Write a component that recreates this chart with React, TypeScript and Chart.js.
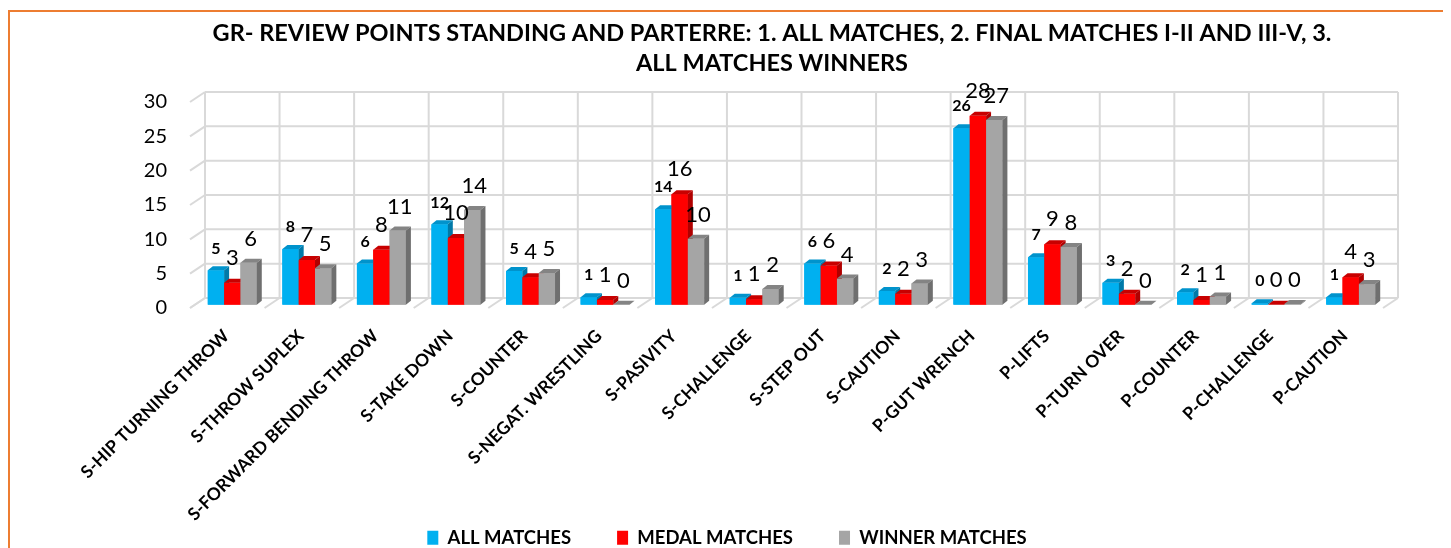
import React, { useEffect, useRef } from "react";
import { Chart, registerables } from "chart.js";

Chart.register(...registerables);

const categories = [
  "S-HIP TURNING THROW",
  "S-THROW SUPLEX",
  "S-FORWARD BENDING THROW",
  "S-TAKE DOWN",
  "S-COUNTER",
  "S-NEGAT. WRESTLING",
  "S-PASIVITY",
  "S-CHALLENGE",
  "S-STEP OUT",
  "S-CAUTION",
  "P-GUT WRENCH",
  "P-LIFTS",
  "P-TURN OVER",
  "P-COUNTER",
  "P-CHALLENGE",
  "P-CAUTION",
];

const allMatches = [5.0, 8.1, 6.0, 11.7, 4.9, 1.1, 13.9, 1.0, 6.0, 2.0, 25.7, 6.9, 3.2, 1.8, 0.2, 1.1];
const medalMatches = [3.2, 6.5, 8.0, 9.7, 4.0, 0.7, 16.1, 0.8, 5.7, 1.6, 27.5, 8.8, 1.6, 0.7, 0.0, 4.0];
const winnerMatches = [6.1, 5.3, 10.8, 13.8, 4.6, 0.0, 9.6, 2.3, 3.8, 3.1, 26.9, 8.4, 0.0, 1.2, 0.1, 3.0];

const seriesNames = ["ALL MATCHES", "MEDAL MATCHES", "WINNER MATCHES"];
const titleLines = [
  "GR- REVIEW POINTS STANDING AND PARTERRE: 1. ALL MATCHES, 2. FINAL MATCHES I-II AND III-V, 3.",
  "ALL MATCHES WINNERS",
];
const yMin = 0;
const yMax = 30;
const yStep = 5;

const FONT = 'Lato, "Open Sans", "DejaVu Sans", sans-serif';
const FRONT = ["#00B0F0", "#FF0000", "#A5A5A5"];
const TOP = ["#0093CC", "#C80000", "#848484"];
const SIDE = ["#0079A8", "#B00000", "#6F6F6F"];

const CANVAS_W = 1524;
const CANVAS_H = 545;
const AREA_LEFT = 185;
const AREA_RIGHT = 1378;
const AREA_BOTTOM = 292.7;
const BACK = { dx: 10, dy: -6.7 };
const FRONTP = { dx: -5, dy: 3.3 };
const BAR_DX = 5;
const BAR_DY = 4;
const TITLE_CX = 762;
const LEGEND_CX = 717;

const grid3d = {
  id: "grid3d",
  beforeDatasetsDraw(chart: any) {
    const { ctx, chartArea: a, scales } = chart;
    const x = scales.x;
    const y = scales.y;
    ctx.save();
    ctx.strokeStyle = "#D9D9D9";
    ctx.lineWidth = 2;
    const line = (x1: number, y1: number, x2: number, y2: number) => {
      ctx.beginPath();
      ctx.moveTo(x1, y1);
      ctx.lineTo(x2, y2);
      ctx.stroke();
    };
    y.ticks.forEach((t: any) => {
      const py = y.getPixelForValue(t.value);
      line(a.left + BACK.dx, py + BACK.dy, a.right + BACK.dx, py + BACK.dy);
      line(a.left + FRONTP.dx, py + FRONTP.dy, a.left + BACK.dx, py + BACK.dy);
    });
    const n = categories.length;
    const yTop = y.getPixelForValue(yMax);
    const y0 = y.getPixelForValue(yMin);
    for (let i = 0; i <= n; i++) {
      const bx =
        i === 0 ? a.left : i === n ? a.right : (x.getPixelForValue(i - 1) + x.getPixelForValue(i)) / 2;
      line(bx + BACK.dx, yTop + BACK.dy, bx + BACK.dx, y0 + BACK.dy);
      line(bx + FRONTP.dx, y0 + FRONTP.dy, bx + BACK.dx, y0 + BACK.dy);
    }
    ctx.restore();
  },
};

const bars3d = {
  id: "bars3d",
  afterDatasetsDraw(chart: any) {
    const ctx = chart.ctx;
    const metas = chart.data.datasets.map((_: any, i: number) => chart.getDatasetMeta(i));
    ctx.save();
    for (let i = 0; i < categories.length; i++) {
      metas.forEach((m: any, d: number) => {
        const el = m.data[i];
        if (!el) return;
        const { x, y, base, width } = el.getProps(["x", "y", "base", "width"], true);
        const l = x - width / 2;
        const r = x + width / 2;
        ctx.fillStyle = FRONT[d];
        ctx.fillRect(l, y, width, base - y);
        ctx.fillStyle = TOP[d];
        ctx.beginPath();
        ctx.moveTo(l, y);
        ctx.lineTo(l + BAR_DX, y - BAR_DY);
        ctx.lineTo(r + BAR_DX, y - BAR_DY);
        ctx.lineTo(r, y);
        ctx.closePath();
        ctx.fill();
        ctx.fillStyle = SIDE[d];
        ctx.beginPath();
        ctx.moveTo(r, y);
        ctx.lineTo(r + BAR_DX, y - BAR_DY);
        ctx.lineTo(r + BAR_DX, base - BAR_DY);
        ctx.lineTo(r, base);
        ctx.closePath();
        ctx.fill();
      });
    }
    ctx.fillStyle = "#000";
    ctx.textAlign = "center";
    ctx.textBaseline = "middle";
    metas.forEach((m: any, d: number) => {
      const data = chart.data.datasets[d].data;
      m.data.forEach((el: any, i: number) => {
        const { x, y } = el.getProps(["x", "y"], true);
        const txt = String(Math.round(data[i]));
        if (d === 0) {
          ctx.font = `bold 16px ${FONT}`;
          ctx.fillText(txt, x, y - 22);
        } else if (d === 1) {
          ctx.font = `22px ${FONT}`;
          ctx.fillText(txt, x, y - 25);
        } else {
          ctx.font = `22px ${FONT}`;
          ctx.fillText(txt, x + 2, y - 24);
        }
      });
    });
    ctx.restore();
  },
};

const boxShift = {
  id: "boxShift",
  afterLayout(chart: any) {
    const lg = chart.legend;
    if (lg) {
      const dx = LEGEND_CX - (lg.left + lg.right) / 2;
      lg.left += dx;
      lg.right += dx;
    }
    const tb = chart.titleBlock;
    if (tb) {
      const dx = TITLE_CX - (tb.left + tb.right) / 2;
      tb.left += dx;
      tb.right += dx;
    }
    const xs = chart.scales.x;
    if (xs) {
      xs._computeLabelArea = () => ({ top: 0, left: 0, bottom: chart.height, right: chart.width });
    }
  },
};

export default function App() {
  const ref = useRef<HTMLCanvasElement | null>(null);
  useEffect(() => {
    document.documentElement.style.overflow = "hidden";
    document.body.style.overflow = "hidden";
    if (!ref.current) return;
    const series = [allMatches, medalMatches, winnerMatches];
    const chart = new Chart(ref.current, {
      type: "bar",
      data: {
        labels: categories,
        datasets: series.map((s, i) => ({
          label: seriesNames[i],
          data: s,
          backgroundColor: FRONT[i],
          borderWidth: 0,
          categoryPercentage: 0.657,
          barPercentage: 1,
        })),
      },
      options: {
        responsive: false,
        maintainAspectRatio: false,
        devicePixelRatio: 1,
        animation: false,
        layout: { padding: { left: 0, right: CANVAS_W - AREA_RIGHT, top: 0, bottom: 0 } },
        plugins: {
          title: {
            display: true,
            text: titleLines,
            color: "#000",
            font: { family: FONT, size: 23.5, weight: "bold", lineHeight: "30px" },
            padding: { top: 6.5, bottom: 20.2 },
          },
          legend: {
            display: true,
            position: "bottom",
            labels: {
              boxWidth: 11,
              boxHeight: 14,
              padding: 46,
              color: "#000",
              font: { family: FONT, size: 18.5, weight: "bold" },
            },
          },
          tooltip: { enabled: false },
        },
        scales: {
          x: {
            grid: { display: false, drawTicks: false },
            border: { display: false },
            ticks: {
              autoSkip: false,
              minRotation: 45,
              maxRotation: 45,
              padding: 21,
              labelOffset: -6,
              color: "#000",
              font: { family: FONT, size: 17.5, weight: "bold" },
            },
            afterFit: (s: any) => {
              const lg = s.chart.legend;
              s.height = s.chart.height - (lg ? lg.height : 0) - AREA_BOTTOM;
            },
          },
          y: {
            min: yMin,
            max: yMax,
            grid: { display: false, drawTicks: false },
            border: { display: false },
            ticks: {
              stepSize: yStep,
              padding: 28,
              labelOffset: 3.3,
              color: "#000",
              font: { family: FONT, size: 20 },
            },
            afterFit: (s: any) => {
              s.width = AREA_LEFT;
            },
          },
        },
      },
      plugins: [grid3d, bars3d, boxShift],
    });
    return () => chart.destroy();
  }, []);

  return (
    <div
      style={{
        position: "relative",
        top: 2,
        width: CANVAS_W,
        height: CANVAS_H,
        border: "2px solid #ED7D31",
        background: "#fff",
      }}
    >
      <canvas ref={ref} width={CANVAS_W} height={CANVAS_H} style={{ display: "block" }} />
    </div>
  );
}
